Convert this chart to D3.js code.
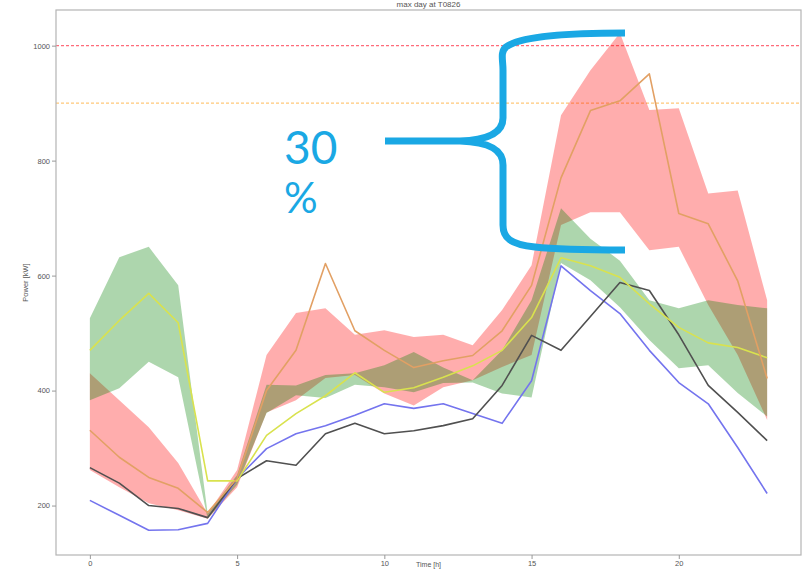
<!DOCTYPE html>
<html>
<head>
<meta charset="utf-8">
<script src="https://cdn.jsdelivr.net/npm/d3@7"></script>
<style>
  html, body { margin: 0; padding: 0; background: #fff; }
  svg { display: block; }
</style>
</head>
<body>
<svg id="chart" width="807" height="570"></svg>
<script>
// Hourly load profile for the maximum day
const hours = d3.range(0, 24);

// Measured / reference profiles [kW]
const blueProfile  = [209,183,157,158,169,247,299,325,339,357,377,369,377,360,343,417,617,574,534,470,414,377,301,221];
const blackProfile = [266,239,200,195,179,247,278,270,325,343,325,330,339,351,409,496,470,529,588,574,497,409,362,313];

// Scenario A: mean (yellow) with band (green)
const yellowMean = [470,522,569,518,243,243,322,360,391,431,397,405,423,443,470,527,631,617,597,551,510,483,475,457];
const greenUpper = [526,632,650,583,186,253,410,409,427,430,444,467,440,418,470,557,717,664,626,557,543,557,549,543];
const greenLower = [383,404,450,423,177,236,361,392,387,410,406,397,413,414,395,388,622,592,545,488,439,444,396,355];

// Scenario B: mean (orange) with band (red)
const orangeMean = [331,284,249,230,188,247,400,470,621,504,470,440,452,461,504,583,770,887,904,951,708,690,591,421];
const redUpper   = [430,383,336,274,186,262,462,535,543,497,505,493,497,479,540,618,879,957,1022,888,891,743,748,557];
const redLower   = [262,232,204,192,177,232,362,383,422,427,395,374,406,418,441,462,688,710,710,644,650,549,462,349];

// Limits [kW]
const limits = [
  { value: 1000, color: "#ff6b7a" },
  { value: 900,  color: "#ffc878" }
];

const xTicks = [0, 5, 10, 15, 20];
const yTicks = [200, 400, 600, 800, 1000];

const titleText = "max day at T0826";
const xLabel = "Time [h]";
const yLabel = "Power [kW]";
const noteLines = ["30", "%"];

const svg = d3.select("#chart");
const plot = { left: 56, right: 801, top: 10, bottom: 555 };

const x = d3.scaleLinear().domain([-1.15, 24.15]).range([plot.left, plot.right]);
const y = d3.scaleLinear().domain([114, 1062]).range([plot.bottom, plot.top]);

const g = svg.append("g");

// clip to the axes box
svg.append("defs").append("clipPath").attr("id", "clip")
  .append("rect")
  .attr("x", plot.left).attr("y", plot.top)
  .attr("width", plot.right - plot.left).attr("height", plot.bottom - plot.top);

const layer = g.append("g").attr("clip-path", "url(#clip)");

// limit lines
limits.forEach(l => {
  layer.append("line")
    .attr("x1", plot.left).attr("x2", plot.right)
    .attr("y1", y(l.value)).attr("y2", y(l.value))
    .attr("stroke", l.color).attr("stroke-width", 1.3)
    .attr("stroke-dasharray", "3,2");
});

function band(upper, lower, color) {
  const area = d3.area()
    .x((d, i) => x(hours[i]))
    .y0((d, i) => y(lower[i]))
    .y1((d, i) => y(upper[i]));
  layer.append("path")
    .datum(upper)
    .attr("d", area)
    .attr("fill", color)
    .attr("fill-opacity", 0.32);
}

band(redUpper, redLower, "#ff0000");
band(greenUpper, greenLower, "#008000");

function profile(values, color, width) {
  const line = d3.line()
    .x((d, i) => x(hours[i]))
    .y(d => y(d));
  layer.append("path")
    .datum(values)
    .attr("d", line)
    .attr("fill", "none")
    .attr("stroke", color)
    .attr("stroke-width", width)
    .attr("stroke-linejoin", "round");
}

profile(blueProfile, "#7474ee", 1.6);
profile(blackProfile, "#505050", 1.6);
profile(yellowMean, "#d9e24e", 1.6);
profile(orangeMean, "#e2a064", 1.6);

// axes box
g.append("rect")
  .attr("x", plot.left).attr("y", plot.top)
  .attr("width", plot.right - plot.left).attr("height", plot.bottom - plot.top)
  .attr("fill", "none").attr("stroke", "#b4b4b4").attr("stroke-width", 1.2);

const axisFont = "Liberation Sans, Arial, sans-serif";

const yAxis = g.append("g")
  .attr("transform", `translate(${plot.left},0)`)
  .call(d3.axisLeft(y).tickValues(yTicks).tickFormat(d3.format("d")).tickSize(4).tickPadding(2));
const xAxis = g.append("g")
  .attr("transform", `translate(0,${plot.bottom})`)
  .call(d3.axisBottom(x).tickValues(xTicks).tickFormat(d3.format("d")).tickSize(4).tickPadding(2));

[yAxis, xAxis].forEach(a => {
  a.select(".domain").remove();
  a.attr("color", "#555");
  a.selectAll(".tick line").attr("stroke", "#999");
  a.selectAll(".tick text")
    .attr("fill", "#555")
    .style("font-family", axisFont)
    .style("font-size", "7.5px");
});

// title and axis labels
g.append("text")
  .attr("x", (plot.left + plot.right) / 2).attr("y", 7)
  .attr("text-anchor", "middle")
  .style("font-family", axisFont).style("font-size", "8px")
  .attr("fill", "#555")
  .text(titleText);

g.append("text")
  .attr("x", (plot.left + plot.right) / 2).attr("y", 567)
  .attr("text-anchor", "middle")
  .style("font-family", axisFont).style("font-size", "7px")
  .attr("fill", "#555")
  .text(xLabel);

g.append("text")
  .attr("transform", `translate(28,${(plot.top + plot.bottom) / 2}) rotate(-90)`)
  .attr("text-anchor", "middle")
  .style("font-family", axisFont).style("font-size", "7.5px")
  .attr("fill", "#555")
  .text(yLabel);

// curly brace spanning the gap between the limit and the peak band
const braceColor = "#1aa8e4";
const bracePath = d3.path();
bracePath.moveTo(625, 33);
bracePath.bezierCurveTo(575, 33, 520, 36, 506, 47);
bracePath.bezierCurveTo(500, 52, 503, 60, 503, 70);
bracePath.lineTo(503, 118);
bracePath.bezierCurveTo(503, 132, 490, 140, 460, 141);
bracePath.lineTo(385, 141);
bracePath.moveTo(460, 141);
bracePath.bezierCurveTo(490, 142, 503, 150, 503, 165);
bracePath.lineTo(503, 225);
bracePath.bezierCurveTo(503, 238, 510, 244, 535, 247);
bracePath.bezierCurveTo(560, 250, 590, 250, 625, 250);
g.append("path")
  .attr("d", bracePath.toString())
  .attr("fill", "none")
  .attr("stroke", braceColor)
  .attr("stroke-width", 7)
  .attr("stroke-linecap", "butt");

g.append("text")
  .attr("x", 284).attr("y", 164)
  .style("font-family", "Lato, 'Open Sans', sans-serif")
  .style("font-size", "46px")
  .attr("fill", braceColor)
  .text(noteLines[0]);
g.append("text")
  .attr("x", 284).attr("y", 213)
  .style("font-family", "Lato, 'Open Sans', sans-serif")
  .style("font-size", "42px")
  .attr("fill", braceColor)
  .text(noteLines[1]);
</script>
</body>
</html>
